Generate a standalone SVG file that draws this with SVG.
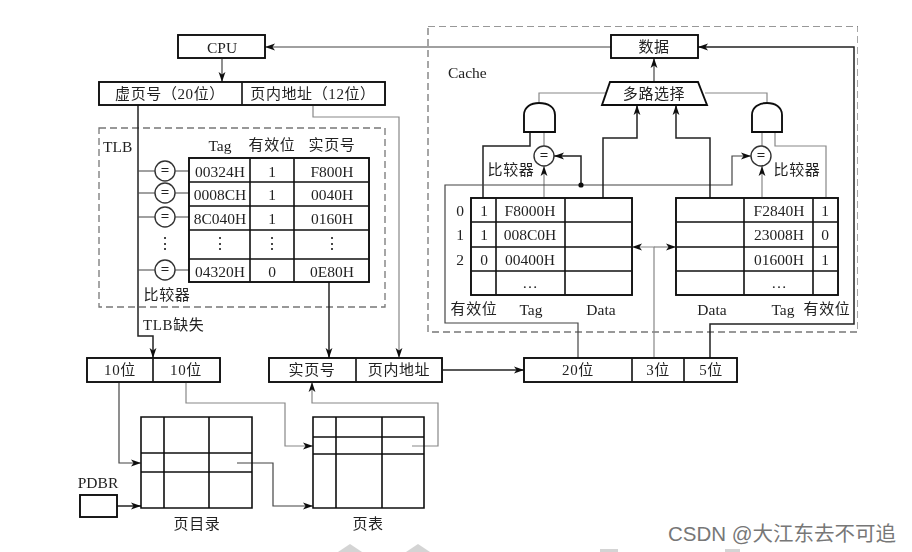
<svg xmlns="http://www.w3.org/2000/svg" width="912" height="552" viewBox="0 0 912 552">
<style>
text{font-family:"Liberation Serif","Noto Sans CJK SC",serif;font-size:15.5px;fill:#222;text-anchor:middle;dominant-baseline:central}
.cn{font-size:15px;letter-spacing:.6px}
.l{text-anchor:start}
.eq{font-weight:bold;font-size:15px}
.box{fill:#fff;stroke:#111;stroke-width:1.9}
.grid{fill:none;stroke:#111;stroke-width:1.6}
.dash{fill:none;stroke:#777;stroke-width:1.3;stroke-dasharray:7 4}
.c{fill:none;stroke:#444;stroke-width:1.2}
.t{fill:none;stroke:#888;stroke-width:1.2}
.k{fill:none;stroke:#222;stroke-width:1.5}
.a{marker-end:url(#arr)}
.cmp{fill:#fff;stroke:#333;stroke-width:1.4}
.wm{fill:#d4d4d4}
.csdn{font-family:"Liberation Sans","Noto Sans CJK SC",sans-serif;font-size:20.5px;fill:#777;text-anchor:start}
</style>
<defs>
<marker id="arr" markerWidth="11" markerHeight="8" refX="10" refY="4" orient="auto" markerUnits="userSpaceOnUse"><path d="M0,0.6L10,4L0,7.4L2.5,4Z" fill="#111"/></marker>
<filter id="soft" x="0" y="0" width="100%" height="100%"><feGaussianBlur stdDeviation="0.45"/></filter>
</defs>
<rect width="912" height="552" fill="#fff"/>
<g id="diagram" filter="url(#soft)">
<g id="regions">
<rect class="dash" x="99" y="128" width="286" height="179"/>
<rect class="dash" x="428" y="26" width="430" height="306"/>
</g>
<g id="connectors">
<path class="c a" d="M611,47H265"/>
<path class="c a" d="M222,58V82"/>
<path class="k a" d="M138,105V336H153V358"/>
<path class="t a" d="M313,105V117H399V358"/>
<path class="c" d="M138,171H155M175,171H189M138,193H155M175,193H189M138,217H155M175,217H189M138,270H155M175,270H189"/>
<path class="k a" d="M329,282V358"/>
<path class="c a" d="M654,82V58"/>
<path class="t" d="M539,103V93H606M767,103V93H705"/>
<path class="k" d="M530,132V146H483V198"/>
<path class="t" d="M544,132V146M762,132V146"/>
<path class="t" d="M775,132V146H826V198"/>
<path class="t a" d="M544,198V166"/>
<path class="t a" d="M762,198V166"/>
<path class="k a" d="M581,185V156H554"/>
<path class="c a" d="M578,358V323H445V185H732V156H751"/>
<path class="k a" d="M603,198V138H637V105"/>
<path class="k a" d="M710,198V138H676V105"/>
<path class="k a" d="M710,358V324H854V47H698"/>
<path class="t a" d="M654,358V247H632"/>
<path class="t a" d="M654,247H676"/>
<path class="k a" d="M443,370H524"/>
<path class="c a" d="M119,382V463H141"/>
<path class="t a" d="M186,382V403H285V446H313"/>
<path class="t a" d="M412,446H438V403H312V382"/>
<path class="c a" d="M237,463H273V506H313"/>
<path class="k a" d="M117,506H141"/>
<circle cx="581" cy="185" r="2.6" fill="#111"/>
</g>
<g id="cpu"><rect class="box" x="178" y="35" width="87" height="23"/><text x="222" y="47">CPU</text></g>
<g id="vaddr"><rect class="box" x="99" y="82" width="286" height="23"/><path class="grid" d="M242,82V105"/>
<text class="cn" x="170" y="94">虚页号（20位）</text><text class="cn" x="313" y="94">页内地址（12位）</text></g>
<g id="tlb">
<text class="l" x="103" y="146">TLB</text>
<text x="220" y="145">Tag</text><text class="cn" x="272" y="145">有效位</text><text class="cn" x="332" y="145">实页号</text>
<rect class="box" x="189" y="158" width="180" height="124"/>
<path class="grid" d="M189,182H369M189,206H369M189,230H369M189,259H369M250,158V282M294,158V282"/>
<text x="220" y="171">00324H</text><text x="272" y="171">1</text><text x="332" y="171">F800H</text>
<text x="220" y="194">0008CH</text><text x="272" y="194">1</text><text x="332" y="194">0040H</text>
<text x="220" y="218">8C040H</text><text x="272" y="218">1</text><text x="332" y="218">0160H</text>
<text x="220" y="243">⋮</text><text x="272" y="243">⋮</text><text x="332" y="243">⋮</text>
<text x="220" y="271">04320H</text><text x="272" y="271">0</text><text x="332" y="271">0E80H</text>
<text x="165" y="243">⋮</text>
<text class="cn" x="167" y="295">比较器</text>
</g>
<g id="tlb-comparators">
<circle class="cmp" cx="165" cy="171" r="10"/><text class="eq" x="165" y="170">=</text>
<circle class="cmp" cx="165" cy="193" r="10"/><text class="eq" x="165" y="192">=</text>
<circle class="cmp" cx="165" cy="217" r="10"/><text class="eq" x="165" y="216">=</text>
<circle class="cmp" cx="165" cy="270" r="10"/><text class="eq" x="165" y="269">=</text>
</g>
<g id="tlb-miss"><text class="cn l" x="143" y="325">TLB缺失</text></g>
<g id="data"><rect class="box" x="611" y="35" width="87" height="23"/><text class="cn" x="654" y="47">数据</text></g>
<g id="cache-label"><text class="l" x="448" y="72">Cache</text></g>
<g id="mux"><path class="box" d="M610,82H698L707,105H602Z"/><text class="cn" x="654" y="94">多路选择</text></g>
<g id="and-left"><path class="box" d="M524,132V115C524,107 531,103 539,103C548,103 555,107 555,115V132Z"/></g>
<g id="and-right"><path class="box" d="M752,132V115C752,107 759,103 767,103C775,103 782,107 782,115V132Z"/></g>
<g id="cmp-left"><circle class="cmp" cx="544" cy="156" r="10"/><text class="eq" x="544" y="155">=</text><text class="cn" x="511" y="170">比较器</text></g>
<g id="cmp-right"><circle class="cmp" cx="761" cy="156" r="10"/><text class="eq" x="761" y="155">=</text><text class="cn" x="797" y="170">比较器</text></g>
<g id="cache-left">
<rect class="box" x="471" y="198" width="161" height="97"/>
<path class="grid" d="M471,222H632M471,247H632M471,271H632M496,198V295M565,198V295"/>
<text x="460" y="210">0</text><text x="460" y="234">1</text><text x="460" y="259">2</text>
<text x="484" y="210">1</text><text x="484" y="234">1</text><text x="484" y="259">0</text>
<text x="530" y="210">F8000H</text><text x="530" y="234">008C0H</text><text x="530" y="259">00400H</text><text x="530" y="282">…</text>
<text class="cn" x="474" y="309">有效位</text><text x="531" y="309">Tag</text><text x="601" y="309">Data</text>
</g>
<g id="cache-right">
<rect class="box" x="676" y="198" width="162" height="97"/>
<path class="grid" d="M676,222H838M676,247H838M676,271H838M744,198V295M813,198V295"/>
<text x="779" y="210">F2840H</text><text x="779" y="234">23008H</text><text x="779" y="259">01600H</text><text x="779" y="282">…</text>
<text x="825" y="210">1</text><text x="825" y="234">0</text><text x="825" y="259">1</text>
<text x="712" y="309">Data</text><text x="783" y="309">Tag</text><text class="cn" x="827" y="309">有效位</text>
</g>
<g id="paddr-cache"><rect class="box" x="524" y="358" width="213" height="24"/><path class="grid" d="M632,358V382M684,358V382"/>
<text class="cn" x="578" y="370">20位</text><text class="cn" x="658" y="370">3位</text><text class="cn" x="711" y="370">5位</text></g>
<g id="dir-index"><rect class="box" x="87" y="358" width="133" height="24"/><path class="grid" d="M153,358V382"/>
<text class="cn" x="120" y="370">10位</text><text class="cn" x="186" y="370">10位</text></g>
<g id="paddr"><rect class="box" x="269" y="358" width="173" height="24"/><path class="grid" d="M356,358V382"/>
<text class="cn" x="312" y="370">实页号</text><text class="cn" x="399" y="370">页内地址</text></g>
<g id="page-dir"><path class="grid" d="M141,417H252V508H141ZM164,417V508M209,417V508M141,453H252M141,472H252"/><text class="cn" x="197" y="524">页目录</text></g>
<g id="page-table"><path class="grid" d="M313,417H424V508H313ZM336,417V508M382,417V508M313,437H424M313,454H424"/><text class="cn" x="368" y="524">页表</text></g>
<g id="pdbr"><rect class="box" x="80" y="495" width="37" height="22"/><text x="98" y="482">PDBR</text></g>
</g>
<g id="watermark">
<path class="wm" d="M350,544L338,552H362ZM418,544L406,552H430Z"/>
<rect class="wm" x="600" y="549" width="18" height="3"/><rect class="wm" x="725" y="549" width="15" height="3"/>
<text class="csdn" x="668" y="533">CSDN @大江东去不可追</text>
</g>
</svg>
